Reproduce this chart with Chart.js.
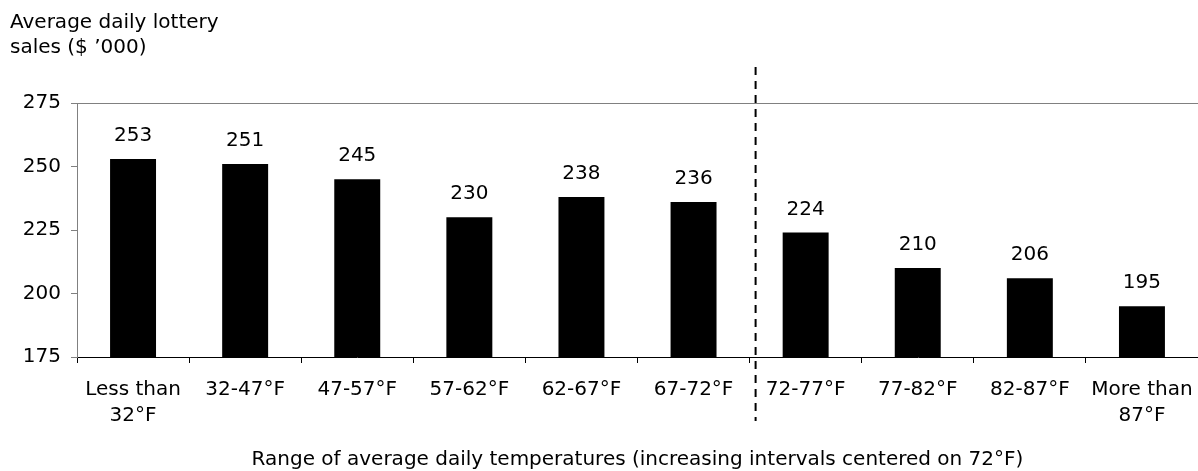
<!DOCTYPE html>
<html lang="en">
  <head>
    <meta charset="UTF-8" />
    <title>Average daily lottery sales</title>
    <style>
      html, body { margin: 0; padding: 0; background: #fff; }
      #wrap { width: 1198px; height: 471px; position: relative; }
    </style>
  </head>
  <body>
    <div id="wrap"><canvas id="myChart" width="1198" height="471"></canvas></div>

    <script src="https://cdn.jsdelivr.net/npm/chart.js"></script>
    <script>
      const categories = [
        ["Less than", "32°F"], "32-47°F", "47-57°F", "57-62°F", "62-67°F",
        "67-72°F", "72-77°F", "77-82°F", "82-87°F", ["More than", "87°F"]
      ];
      const sales = [253, 251, 245, 230, 238, 236, 224, 210, 206, 195];
      const yTicks = [175, 200, 225, 250, 275];
      const yTitle = ["Average daily lottery", "sales ($ \u2019000)"];
      const xTitle = "Range of average daily temperatures (increasing intervals centered on 72°F)";

      const FONT = "'DejaVu Sans', 'Liberation Sans', Arial, sans-serif";

      // labels above bars, axis titles, dashed split line
      const extras = {
        id: "extras",
        afterDatasetsDraw(chart) {
          const c = chart.ctx;
          const meta = chart.getDatasetMeta(0);
          c.save();
          c.fillStyle = "#000";
          c.font = "20px " + FONT;
          c.textAlign = "center";
          c.textBaseline = "alphabetic";
          meta.data.forEach((bar, i) => {
            c.fillText(String(sales[i]), bar.x, bar.y - 18);
          });

          // dashed line between 67-72 and 72-77
          const xs = chart.scales.x;
          const xm = (xs.getPixelForValue(5) + xs.getPixelForValue(6)) / 2 + 6;
          c.strokeStyle = "#000";
          c.lineWidth = 2;
          c.setLineDash([8, 6]);
          c.beginPath();
          c.moveTo(xm, 67);
          c.lineTo(xm, 421);
          c.stroke();
          c.setLineDash([]);

          c.textAlign = "left";
          c.fillText(yTitle[0], 10, 28);
          c.fillText(yTitle[1], 10, 53);

          c.textAlign = "center";
          c.fillText(xTitle, (chart.chartArea.left + chart.chartArea.right) / 2, 465);
          c.restore();
        }
      };

      const ctx = document.getElementById("myChart").getContext("2d");
      new Chart(ctx, {
        type: "bar",
        data: {
          labels: categories,
          datasets: [
            {
              data: sales,
              backgroundColor: "#000",
              borderWidth: 0,
              categoryPercentage: 1,
              barPercentage: 0.41
            }
          ]
        },
        options: {
          responsive: false,
          animation: false,
          layout: { padding: { top: 103, right: 0, bottom: 28, left: 0 } },
          plugins: {
            legend: { display: false },
            tooltip: { enabled: false }
          },
          scales: {
            x: {
              offset: true,
              grid: {
                offset: true,
                drawOnChartArea: false,
                tickLength: 6,
                tickColor: "#000"
              },
              border: { color: "#000", width: 1 },
              ticks: {
                color: "#000",
                font: { family: FONT, size: 20, lineHeight: 1.3 },
                maxRotation: 0,
                autoSkip: false,
                padding: 14
              },
              afterFit(axis) {
                axis.paddingLeft = 0;
                axis.paddingRight = 0;
              }
            },
            y: {
              min: 175,
              max: 275,
              afterBuildTicks(axis) {
                axis.ticks = yTicks.map(v => ({ value: v }));
              },
              grid: {
                color: c => (c.tick && c.tick.value === 275 ? "#808080" : "rgba(0,0,0,0)"),
                tickColor: "#808080",
                tickLength: 6
              },
              border: { color: "#808080", width: 1 },
              ticks: {
                color: "#000",
                font: { family: FONT, size: 20 },
                padding: 10
              },
              afterFit(axis) {
                axis.width = 77;
                axis.paddingTop = 0;
                axis.paddingBottom = 0;
              }
            }
          }
        },
        plugins: [extras]
      });
    </script>
  </body>
</html>
